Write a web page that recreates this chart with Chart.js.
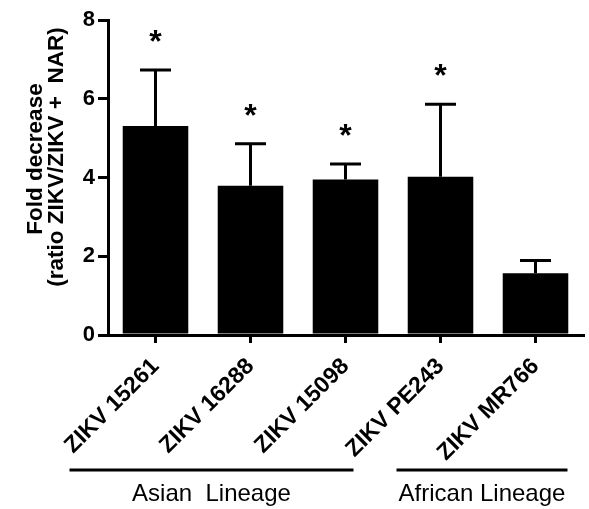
<!DOCTYPE html>
<html>
<head>
<style>
  body { margin: 0; background: #fff; }
  #wrap { width: 589px; height: 509px; }
</style>
</head>
<body>
<div id="wrap"><canvas id="foldChart" width="589" height="509"></canvas></div>
<script src="https://cdn.jsdelivr.net/npm/chart.js@4.4.0/dist/chart.umd.min.js"></script>
<script>
const strains = ['ZIKV 15261', 'ZIKV 16288', 'ZIKV 15098', 'ZIKV PE243', 'ZIKV MR766'];
const foldDecrease = [5.31, 3.79, 3.95, 4.02, 1.57];
const errorUpper = [1.42, 1.07, 0.39, 1.84, 0.32];
const significance = ['*', '*', '*', '*', ''];
const yTicks = [0, 2, 4, 6, 8];
const yTitle = ['Fold decrease', '(ratio ZIKV/ZIKV +  NAR)'];
const lineageNames = ['Asian  Lineage', 'African Lineage'];
const lineageFirst = [0, 3];
const lineageLast = [2, 4];

const FONT = "'Liberation Sans', Arial, sans-serif";

// error bars, asterisks, y title and lineage brackets
const extras = {
    id: 'extras',
    afterDatasetsDraw(chart) {
        const ctx = chart.ctx;
        const x = chart.scales.x;
        const y = chart.scales.y;
        ctx.save();
        ctx.strokeStyle = '#000';
        ctx.fillStyle = '#000';
        ctx.lineWidth = 3;

        foldDecrease.forEach((v, i) => {
            const cx = x.getPixelForValue(i);
            const top = y.getPixelForValue(v + errorUpper[i]);
            ctx.beginPath();
            ctx.moveTo(cx, y.getPixelForValue(v));
            ctx.lineTo(cx, top);
            ctx.moveTo(cx - 15.5, top);
            ctx.lineTo(cx + 15.5, top);
            ctx.stroke();

            if (significance[i]) {
                ctx.font = 'bold 32px ' + FONT;
                ctx.textAlign = 'center';
                ctx.textBaseline = 'alphabetic';
                ctx.fillText(significance[i], cx, top - 18);
            }
        });

        // y axis title, two lines
        ctx.font = 'bold 22.5px ' + FONT;
        ctx.textAlign = 'center';
        ctx.textBaseline = 'alphabetic';
        [[42, 159], [63, 157]].forEach((p, k) => {
            ctx.save();
            ctx.translate(p[0], p[1]);
            ctx.rotate(-Math.PI / 2);
            ctx.fillText(yTitle[k], 0, 0);
            ctx.restore();
        });

        // lineage brackets under the labels
        const pads = [[-86, 8], [-44, 32]];
        ctx.font = '24px ' + FONT;
        lineageNames.forEach((name, g) => {
            const x0 = x.getPixelForValue(lineageFirst[g]) + pads[g][0];
            const x1 = x.getPixelForValue(lineageLast[g]) + pads[g][1];
            ctx.lineWidth = 3;
            ctx.beginPath();
            ctx.moveTo(x0, 470);
            ctx.lineTo(x1, 470);
            ctx.stroke();
            ctx.fillText(name, (x0 + x1) / 2, 501);
        });
        ctx.restore();
    }
};

new Chart(document.getElementById('foldChart'), {
    type: 'bar',
    data: {
        labels: strains,
        datasets: [{
            data: foldDecrease,
            backgroundColor: '#000',
            borderWidth: 0,
            barPercentage: 0.69,
            categoryPercentage: 1.0
        }]
    },
    options: {
        responsive: false,
        animation: false,
        layout: { padding: { top: 20, right: 6, left: 0, bottom: 0 } },
        plugins: {
            legend: { display: false },
            tooltip: { enabled: false }
        },
        scales: {
            x: {
                afterFit: s => { s.height = 174; },
                grid: { offset: false, drawOnChartArea: false, color: '#000', lineWidth: 3, tickLength: 8 },
                border: { color: '#000', width: 3 },
                ticks: {
                    color: '#000',
                    font: { family: FONT, size: 23, weight: 'bold' },
                    minRotation: 45,
                    maxRotation: 45,
                    padding: 10
                }
            },
            y: {
                min: 0,
                max: 8,
                afterFit: s => { s.width = 108; },
                afterBuildTicks: s => { s.ticks = yTicks.map(v => ({ value: v })); },
                grid: { drawOnChartArea: false, color: '#000', lineWidth: 3, tickLength: 10 },
                border: { color: '#000', width: 3 },
                ticks: {
                    color: '#000',
                    font: { family: FONT, size: 22, weight: 'bold' },
                    padding: 3
                }
            }
        }
    },
    plugins: [extras]
});
</script>
</body>
</html>
